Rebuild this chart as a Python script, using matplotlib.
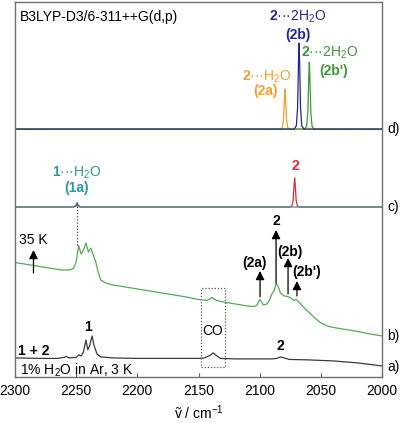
import numpy as np
import matplotlib
matplotlib.use('Agg')
import matplotlib.pyplot as plt
from matplotlib.patches import Rectangle

plt.rcParams['font.family'] = ['Liberation Sans', 'DejaVu Sans']
plt.rcParams['mathtext.fontset'] = 'custom'
plt.rcParams['mathtext.rm'] = 'Liberation Sans'
plt.rcParams['mathtext.bf'] = 'Liberation Sans:bold'
plt.rcParams['mathtext.it'] = 'Liberation Sans:italic'

# a) experimental, 1% H2O in Ar, 3 K (relative to its baseline)
a_nu = [2300, 2280, 2265, 2260, 2258, 2256, 2250, 2248, 2246, 2244, 2242, 2240.5, 2239, 2237,
        2235.5, 2233, 2230, 2220, 2200, 2150, 2145, 2140, 2138, 2135, 2132, 2120, 2090, 2086,
        2083, 2080, 2076, 2060, 2040, 2020, 2000]
a_val = [0, -0.005, -0.005, 0.005, 0.015, 0, 0.005, 0.03, 0.02, 0.06, 0.18, 0.08, 0.12, 0.22,
         0.13, 0.04, 0.01, 0, -0.005, -0.005, 0, 0.03, 0.05, 0.02, -0.005, -0.01, -0.01, -0.005,
         0.01, 0, -0.015, -0.02, -0.03, -0.05, -0.08]

# b) after annealing to 35 K
b_nu = [2300, 2290, 2280, 2270, 2262, 2255, 2252, 2250, 2248, 2246, 2244, 2242, 2240, 2238,
        2236, 2234, 2232, 2230, 2226, 2220, 2200, 2180, 2160, 2150, 2146, 2143, 2141, 2139,
        2138, 2137, 2135, 2130, 2120, 2110, 2104, 2102, 2100, 2098.5, 2097, 2094, 2092, 2090,
        2089, 2088, 2086.5, 2085, 2083, 2080, 2077, 2074, 2072, 2070, 2068, 2065, 2060, 2055,
        2050, 2047, 2045, 2040, 2030, 2020, 2010, 2000]
b_val = [0, -0.02, -0.04, -0.06, -0.075, -0.075, -0.055, 0.005, 0.17, 0.085, 0.125, 0.195,
         0.105, 0.145, 0.075, 0.005, -0.095, -0.175, -0.205, -0.225, -0.265, -0.305, -0.345,
         -0.37, -0.375, -0.38, -0.365, -0.35, -0.36, -0.37, -0.38, -0.395, -0.415, -0.435,
         -0.44, -0.425, -0.37, -0.395, -0.425, -0.415, -0.375, -0.315, -0.295, -0.275, -0.21,
         -0.235, -0.305, -0.335, -0.34, -0.36, -0.38, -0.37, -0.395, -0.435, -0.495, -0.555,
         -0.605, -0.62, -0.635, -0.65, -0.67, -0.69, -0.715, -0.735]

# c) computed monomers
c_red_nu = [2300, 2252, 2250, 2249.3, 2248.5, 2247, 2075.4, 2073.6, 2072.6, 2071.9, 2071.4,
            2070.9, 2070.2, 2069.2, 2067.4, 2000]
c_red_val = [0, 0, 0.01, 0.02, 0.01, 0, 0, 0.012, 0.07, 0.22, 0.29, 0.22, 0.07, 0.012, 0, 0]
c_teal_nu = [2300, 2252.5, 2250.5, 2249.3, 2248.1, 2246, 2000]
c_teal_val = [0, 0, 0.015, 0.045, 0.015, 0, 0]

# d) computed water complexes
d_or_nu = [2300, 2083.3, 2081.5, 2080.5, 2079.8, 2079.3, 2078.8, 2078.1, 2077.1, 2075.3, 2000]
d_or_val = [0, 0, 0.016, 0.10, 0.30, 0.40, 0.30, 0.10, 0.016, 0, 0]
d_bl_nu = [2300, 2071.8, 2070.0, 2069.0, 2068.3, 2067.8, 2067.3, 2066.6, 2065.6, 2063.8, 2000]
d_bl_val = [0, 0, 0.034, 0.215, 0.645, 0.86, 0.645, 0.215, 0.034, 0, 0]
d_gr_nu = [2300, 2063.4, 2061.6, 2060.6, 2059.9, 2059.4, 2058.9, 2058.2, 2057.2, 2055.4, 2000]
d_gr_val = [0, 0, 0.027, 0.17, 0.50, 0.67, 0.50, 0.17, 0.027, 0, 0]

# vertical offsets of the stacked traces
off_a, off_b, off_c, off_d = 0.19, 1.145, 1.70, 2.48

orange = '#f0a030'
navy = '#25258f'
dgreen = '#3a983a'
teal = '#2a9a9a'
red = '#e32636'
bgreen = '#55a855'

fig = plt.figure(figsize=(4.0, 4.23), dpi=100)
ax = fig.add_axes([0.0375, 0.109, 0.9175, 0.887])

ax.plot(a_nu, np.array(a_val) + off_a, color='#3a3a3a', lw=0.9)
ax.plot(b_nu, np.array(b_val) + off_b, color=bgreen, lw=0.9)
ax.plot(c_red_nu, np.array(c_red_val) + off_c, color=red, lw=0.9)
ax.plot(c_teal_nu, np.array(c_teal_val) + off_c, color=teal, lw=0.9)
ax.plot(d_or_nu, np.array(d_or_val) + off_d, color=orange, lw=0.9)
ax.plot(d_gr_nu, np.array(d_gr_val) + off_d, color=dgreen, lw=0.9)
ax.plot(d_bl_nu, np.array(d_bl_val) + off_d, color=navy, lw=0.9)

ax.set_xlim(2300, 2000)
ax.set_ylim(0, 3.755)
ax.set_yticks([])
ax.set_xticks([2300, 2250, 2200, 2150, 2100, 2050, 2000])
ax.tick_params(axis='x', direction='in', length=3, width=0.8, color='#555555',
               labelsize=10, pad=5)
for s in ax.spines.values():
    s.set_color('#707070')
    s.set_linewidth(1.0)
ax.set_xlabel('ṽ / cm$^{-1}$', fontsize=10, labelpad=4)

fs = 10
ax.text(2295.9, 3.60, 'B3LYP-D3/6-311++G(d,p)', fontsize=fs, ha='left', va='center')
ax.text(2068.7, 3.60, r'$\mathbf{2}$···2H$_2$O', color=navy, fontsize=fs, ha='center', va='center')
ax.text(2068.7, 3.42, '(2b)', color=navy, fontsize=fs, ha='center', va='center', fontweight='bold')
ax.text(2042.5, 3.24, r'$\mathbf{2}$···2H$_2$O', color=dgreen, fontsize=fs, ha='center', va='center')
ax.text(2039.2, 3.06, "(2b')", color=dgreen, fontsize=fs, ha='center', va='center', fontweight='bold')
ax.text(2094.0, 3.00, r'$\mathbf{2}$···H$_2$O', color=orange, fontsize=fs, ha='center', va='center')
ax.text(2095.6, 2.86, '(2a)', color=orange, fontsize=fs, ha='center', va='center', fontweight='bold')

ax.text(2249.3, 2.04, r'$\mathbf{1}$···H$_2$O', color=teal, fontsize=fs, ha='center', va='center')
ax.text(2249.3, 1.89, '(1a)', color=teal, fontsize=fs, ha='center', va='center', fontweight='bold')
ax.text(2071.1, 2.11, '2', color=red, fontsize=fs, ha='center', va='center', fontweight='bold')

ax.text(2284.9, 1.37, '35 K', fontsize=fs, ha='center', va='center')
ax.text(2086.6, 1.56, '2', fontsize=fs, ha='center', va='center', fontweight='bold')
ax.text(2104.6, 1.14, '(2a)', fontsize=fs, ha='center', va='center', fontweight='bold')
ax.text(2075.2, 1.25, '(2b)', fontsize=fs, ha='center', va='center', fontweight='bold')
ax.text(2061.3, 1.05, "(2b')", fontsize=fs, ha='center', va='center', fontweight='bold')

ax.text(2240.3, 0.50, '1', fontsize=fs, ha='center', va='center', fontweight='bold')
ax.text(2297.5, 0.26, '1 + 2', fontsize=fs, ha='left', va='center', fontweight='bold')
ax.text(2083.4, 0.31, '2', fontsize=fs, ha='center', va='center', fontweight='bold')
ax.text(2138.2, 0.46, 'CO', fontsize=fs, ha='center', va='center')
ax.text(2295.9, 0.07, '1% H$_2$O in Ar, 3 K', fontsize=fs, ha='left', va='center')

for lab, yy in [('d)', off_d), ('c)', off_c), ('b)', 0.41), ('a)', 0.10)]:
    ax.text(1996, yy, lab, fontsize=fs, ha='left', va='center', clip_on=False)

# arrows (tail, head)
arrows = [(2284.9, 1.04, 1.27), (2086.6, 0.94, 1.47), (2099.7, 0.80, 1.06),
          (2076.8, 0.83, 1.19), (2069.5, 0.81, 0.96)]
for x, y0, y1 in arrows:
    ax.annotate('', xy=(x, y1), xytext=(x, y0),
                arrowprops=dict(arrowstyle='-|>', color='black', lw=0.9,
                                mutation_scale=13, shrinkA=0, shrinkB=0))

# dotted correlation line and CO box
ax.plot([2249.3, 2249.3], [1.32, 1.75], ls=(0, (1, 1.5)), color='#444444', lw=0.9)
ax.add_patch(Rectangle((2148, 0.10), -19.7, 0.79, fill=False, ls=(0, (1, 1.5)),
                       ec='#555555', lw=0.9))

fig.savefig('out.png', dpi=100)
